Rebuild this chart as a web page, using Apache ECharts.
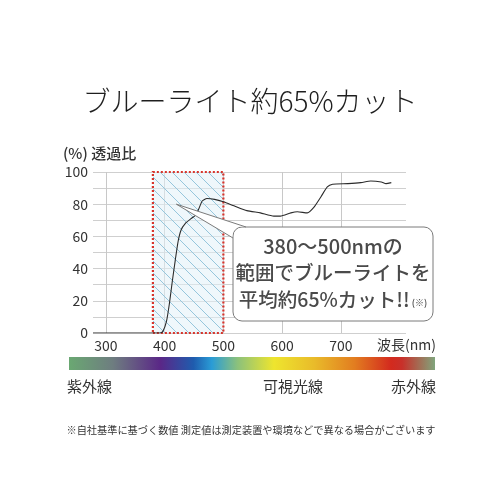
<!DOCTYPE html>
<html>
<head>
<meta charset="utf-8">
<script src="https://cdn.jsdelivr.net/npm/echarts@6/dist/echarts.min.js"></script>
<style>
  html, body { margin: 0; padding: 0; background: #fff; }
  #main { width: 500px; height: 500px; }
</style>
</head>
<body>
<div id="main"></div>
<script>
// 波長 (nm) と透過率 (%)
const wavelength = [278, 392, 397, 403, 408, 413, 418, 423, 428, 435, 445, 452, 458, 464, 472, 485, 500, 518, 540, 563, 586, 597, 615, 626, 643, 654, 666, 677, 686, 712, 734, 751, 769, 777, 786];
const transmit = [0, 0, 1, 7, 18, 32, 45, 57, 64, 68, 71, 73, 77, 82, 83.5, 83, 81.5, 79, 76, 74.6, 72.6, 72.6, 74.6, 75.3, 74.6, 78, 84.5, 90.7, 92.4, 92.8, 93.4, 94.4, 93.8, 92.8, 93.4];
const xTicks = [300, 400, 500, 600, 700];
const yTicks = [0, 20, 40, 60, 80, 100];
const cutRange = [380, 500];
const pointerAt = [420, 80];

const FONT = '"Noto Sans CJK JP", "Noto Sans", sans-serif';

// 斜線ハッチのパターン
function makeHatch() {
  const c = document.createElement('canvas');
  c.width = 12; c.height = 12;
  const ctx = c.getContext('2d');
  ctx.fillStyle = 'rgba(225,240,248,0.55)';
  ctx.fillRect(0, 0, 12, 12);
  ctx.strokeStyle = '#96c6dc';
  ctx.lineWidth = 1;
  [-12, 0, 12].forEach(k => {
    ctx.beginPath();
    ctx.moveTo(k, 0);
    ctx.lineTo(k + 12, 12);
    ctx.stroke();
  });
  return c;
}

var myChart = echarts.init(document.getElementById('main'));

const seriesData = wavelength.map((w, i) => [w, transmit[i]]);

var option = {
  animation: false,
  backgroundColor: '#fff',
  textStyle: { fontFamily: FONT },
  grid: { left: 93, right: 94, top: 172, bottom: 167 },
  xAxis: {
    type: 'value',
    min: 278,
    max: 811,
    axisLine: { show: false },
    axisTick: { show: false, customValues: xTicks },
    axisLabel: { customValues: xTicks, color: '#333', fontSize: 14, margin: 6, fontFamily: FONT },
    splitLine: { show: true, lineStyle: { color: '#c8c8c8', width: 1 } }
  },
  yAxis: {
    type: 'value',
    min: 0,
    max: 100,
    interval: 10,
    axisLine: { show: false },
    axisTick: { show: false },
    axisLabel: { customValues: yTicks, color: '#333', fontSize: 14, margin: 5, fontFamily: FONT },
    splitLine: { show: true, lineStyle: { color: '#cfcfcf', width: 1 } }
  },
  series: [
    {
      type: 'line',
      data: seriesData,
      smooth: 0.2,
      symbol: 'none',
      lineStyle: { color: '#2b2b2b', width: 1.1 },
      z: 5,
      markArea: {
        silent: true,
        itemStyle: {
          color: { image: makeHatch(), repeat: 'repeat' },
          borderColor: '#d8352c',
          borderWidth: 2.2,
          borderType: [2, 2]
        },
        data: [[{ xAxis: cutRange[0], yAxis: 0 }, { xAxis: cutRange[1], yAxis: 100 }]]
      }
    }
  ]
};
myChart.setOption(option);

// 吹き出し
const tip = myChart.convertToPixel({ gridIndex: 0 }, pointerAt);
const bx0 = 233, bx1 = 433, by0 = 227, by1 = 321;
const tailA = [bx0 + 13, by0];
const tailB = [bx0, by0 + 11];

const spectrum = {
  type: 'linear', x: 0, y: 0, x2: 1, y2: 0,
  colorStops: [
    { offset: 0, color: '#6aa872' },
    { offset: 0.12, color: '#6e7d80' },
    { offset: 0.25, color: '#5a2787' },
    { offset: 0.34, color: '#1f5cae' },
    { offset: 0.39, color: '#2a9cd6' },
    { offset: 0.46, color: '#8bc17c' },
    { offset: 0.56, color: '#eee52e' },
    { offset: 0.67, color: '#e9bb2a' },
    { offset: 0.78, color: '#e27d20' },
    { offset: 0.88, color: '#d32a1e' },
    { offset: 0.91, color: '#c8302a' },
    { offset: 1, color: '#80a57c' }
  ]
};

myChart.setOption({
  graphic: [
    {
      type: 'text', x: 250, y: 101,
      style: { text: 'ブルーライト約65%カット', font: '300 28px ' + FONT, fill: '#1e1e1e', align: 'center', verticalAlign: 'middle' }
    },
    {
      type: 'text', x: 63, y: 153,
      style: { text: '(%) 透過比', font: '500 15px ' + FONT, fill: '#333', verticalAlign: 'middle' }
    },
    {
      type: 'text', x: 377, y: 345,
      style: { text: '波長(nm)', font: '14px ' + FONT, fill: '#333', verticalAlign: 'middle' }
    },
    {
      type: 'rect', z: 10,
      shape: { x: bx0, y: by0, width: bx1 - bx0, height: by1 - by0, r: 9 },
      style: { fill: '#fff', stroke: '#7a7a7a', lineWidth: 1 }
    },
    {
      type: 'polygon', z: 11,
      shape: { points: [tip, [tailA[0], tailA[1] - 0.6], [bx0 - 0.6, by0 - 0.6], [tailB[0] - 0.6, tailB[1]]] },
      style: { fill: '#fff' }
    },
    {
      type: 'polyline', z: 12,
      shape: { points: [tailA, tip, tailB] },
      style: { fill: null, stroke: '#7a7a7a', lineWidth: 1 }
    },
    {
      type: 'text', z: 13, x: 333, y: 246,
      style: { text: '380〜500nmの', font: '500 20px ' + FONT, fill: '#4a4a4a', align: 'center', verticalAlign: 'middle' }
    },
    {
      type: 'text', z: 13, x: 333, y: 273,
      style: { text: '範囲でブルーライトを', font: '500 19.5px ' + FONT, fill: '#4a4a4a', align: 'center', verticalAlign: 'middle' }
    },
    {
      type: 'text', z: 13, x: 333, y: 300,
      style: {
        text: '{a|平均約65%カット!!}{b| (※)}',
        align: 'center', verticalAlign: 'middle',
        rich: {
          a: { font: '500 19.5px ' + FONT, fill: '#4a4a4a' },
          b: { font: '500 9px ' + FONT, fill: '#4a4a4a', padding: [6, 0, 0, 0] }
        }
      }
    },
    {
      type: 'rect', shape: { x: 69, y: 357, width: 366, height: 13 },
      style: { fill: spectrum }
    },
    {
      type: 'text', x: 67, y: 386,
      style: { text: '紫外線', font: '15px ' + FONT, fill: '#333', verticalAlign: 'middle' }
    },
    {
      type: 'text', x: 293, y: 386,
      style: { text: '可視光線', font: '15px ' + FONT, fill: '#333', align: 'center', verticalAlign: 'middle' }
    },
    {
      type: 'text', x: 436, y: 386,
      style: { text: '赤外線', font: '15px ' + FONT, fill: '#333', align: 'right', verticalAlign: 'middle' }
    },
    {
      type: 'text', x: 251, y: 430,
      style: { text: '※自社基準に基づく数値 測定値は測定装置や環境などで異なる場合がございます', font: '10.2px ' + FONT, fill: '#333', align: 'center', verticalAlign: 'middle' }
    }
  ]
});
</script>
</body>
</html>
